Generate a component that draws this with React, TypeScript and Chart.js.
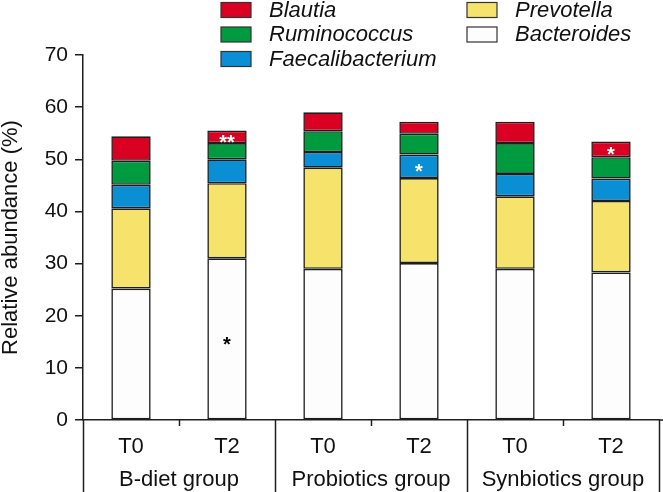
import React, { useEffect, useRef } from 'react';
import { Chart, registerables } from 'chart.js';

Chart.register(...registerables);

// ---- data ----
const categories = ['T0', 'T2', 'T0', 'T2', 'T0', 'T2'];
const groups = ['B-diet group', 'Probiotics group', 'Synbiotics group'];
const bacteroides = [25.2, 31.0, 29.0, 30.1, 29.0, 28.3];
const prevotella = [15.4, 14.4, 19.4, 16.3, 13.9, 13.7];
const faecalibacterium = [4.5, 4.6, 3.0, 4.5, 4.3, 4.3];
const ruminococcus = [4.6, 3.1, 4.0, 4.0, 5.9, 4.1];
const blautia = [4.7, 2.4, 3.6, 2.3, 4.1, 3.0];
const yMin = 0;
const yMax = 70;
const yStep = 10;
const yTitle = 'Relative abundance (%)';
// significance marks: [bar index, series name, text, colour]
const marks: [number, string, string, string][] = [
  [1, 'Blautia', '**', '#ffffff'],
  [1, 'Bacteroides', '*', '#000000'],
  [3, 'Faecalibacterium', '*', '#ffffff'],
  [5, 'Blautia', '*', '#ffffff'],
];
const legendColumns = [
  ['Blautia', 'Ruminococcus', 'Faecalibacterium'],
  ['Prevotella', 'Bacteroides'],
];

const FONT = '"Liberation Sans", Arial, Helvetica, sans-serif';
const INK = '#1e1e1e';

export default function App() {
  const ref = useRef<HTMLCanvasElement | null>(null);

  useEffect(() => {
    if (!ref.current) return;
    const series = [
      { label: 'Bacteroides', data: bacteroides, backgroundColor: '#fdfdfd' },
      { label: 'Prevotella', data: prevotella, backgroundColor: '#f6e36b' },
      { label: 'Faecalibacterium', data: faecalibacterium, backgroundColor: '#0a8ed4' },
      { label: 'Ruminococcus', data: ruminococcus, backgroundColor: '#009b3e' },
      { label: 'Blautia', data: blautia, backgroundColor: '#da0022' },
    ];

    const overlay = {
      id: 'overlay',
      afterDraw(chart: any) {
        const ctx = chart.ctx as CanvasRenderingContext2D;
        const area = chart.chartArea;
        const xs = chart.scales.x;
        const H = chart.height;
        ctx.save();
        // x-axis ticks, separators, labels
        const half = (xs.getPixelForValue(1) - xs.getPixelForValue(0)) / 2;
        ctx.strokeStyle = INK;
        ctx.lineWidth = 1.5;
        for (let i = 0; i <= categories.length; i++) {
          const px = Math.round(xs.getPixelForValue(0) - half + i * 2 * half) + 0.5;
          ctx.beginPath();
          ctx.moveTo(px, area.bottom);
          ctx.lineTo(px, i % 2 === 0 ? H : area.bottom + 6);
          ctx.stroke();
        }
        ctx.beginPath();
        ctx.moveTo(area.right, area.bottom);
        ctx.lineTo(chart.width, area.bottom);
        ctx.stroke();
        ctx.fillStyle = '#111';
        ctx.textAlign = 'center';
        ctx.textBaseline = 'middle';
        ctx.font = `22px ${FONT}`;
        categories.forEach((c, i) => {
          ctx.fillText(c, xs.getPixelForValue(i), area.bottom + 27);
        });
        groups.forEach((g, gi) => {
          const cx = (xs.getPixelForValue(gi * 2) + xs.getPixelForValue(gi * 2 + 1)) / 2;
          ctx.fillText(g, cx, area.bottom + 60);
        });
        // significance marks
        ctx.font = `bold 20px ${FONT}`;
        ctx.textBaseline = 'alphabetic';
        marks.forEach(([bar, name, text, color]) => {
          const di = chart.data.datasets.findIndex((d: any) => d.label === name);
          const el = chart.getDatasetMeta(di).data[bar] as any;
          const cy = (el.y + el.base) / 2;
          ctx.fillStyle = color;
          ctx.fillText(text, el.x, cy + 12);
        });
        // legend
        const colX = [221, 467];
        const rowY = [9.5, 34, 58.5];
        ctx.textAlign = 'left';
        ctx.textBaseline = 'middle';
        ctx.font = `italic 22px ${FONT}`;
        legendColumns.forEach((col, ci) => {
          col.forEach((name, ri) => {
            const ds = chart.data.datasets.find((d: any) => d.label === name);
            const x = colX[ci];
            const y = rowY[ri];
            ctx.fillStyle = ds.backgroundColor;
            ctx.fillRect(x, y - 7, 30, 15);
            ctx.strokeStyle = '#333';
            ctx.lineWidth = 1.2;
            ctx.strokeRect(x, y - 7, 30, 15);
            ctx.fillStyle = '#111';
            ctx.fillText(name, x + 48, y + 1);
          });
        });
        ctx.restore();
      },
    };

    const chart = new Chart(ref.current, {
      type: 'bar',
      data: {
        labels: categories,
        datasets: series.map((s) => ({
          ...s,
          borderColor: INK,
          borderWidth: 1.6,
          borderSkipped: false,
          categoryPercentage: 1,
          barPercentage: 0.41,
        })),
      },
      options: {
        responsive: false,
        animation: false,
        devicePixelRatio: 1,
        layout: { padding: { top: 55, right: 4, left: 0, bottom: 0 } },
        plugins: {
          legend: { display: false },
          tooltip: { enabled: false },
        },
        scales: {
          x: {
            stacked: true,
            grid: { display: false },
            border: { display: true, color: INK, width: 1.5 },
            ticks: { display: false },
            afterFit: (s: any) => {
              s.height = 72;
            },
          },
          y: {
            stacked: true,
            min: yMin,
            max: yMax,
            ticks: {
              stepSize: yStep,
              color: '#111',
              padding: 7,
              font: { family: FONT, size: 21 },
            },
            grid: {
              display: true,
              drawOnChartArea: false,
              drawTicks: true,
              tickLength: 8,
              color: INK,
              lineWidth: 1.5,
            },
            border: { display: true, color: INK, width: 1.5 },
            title: {
              display: true,
              text: yTitle,
              color: '#111',
              font: { family: FONT, size: 22, lineHeight: 1 },
              padding: 0,
            },
            afterFit: (s: any) => {
              s.width = 83;
            },
          },
        },
      },
      plugins: [overlay],
    } as any);
    return () => chart.destroy();
  }, []);

  return (
    <canvas
      ref={ref}
      width={663}
      height={492}
      style={{ position: 'absolute', left: 0, top: 0, display: 'block' }}
    />
  );
}
